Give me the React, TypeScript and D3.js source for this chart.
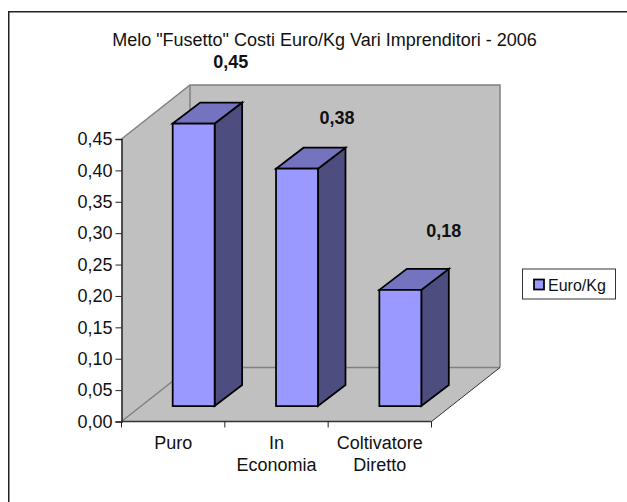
import { useEffect, useRef } from "react";
import * as d3 from "d3";

const categories = [["Puro"], ["In", "Economia"], ["Coltivatore", "Diretto"]];
const values = [0.45, 0.378, 0.185];
const valueLabels = ["0,45", "0,38", "0,18"];
const yTicks = [0, 0.05, 0.1, 0.15, 0.2, 0.25, 0.3, 0.35, 0.4, 0.45];
const chartTitle = 'Melo "Fusetto" Costi Euro/Kg Vari Imprenditori - 2006';
const seriesName = "Euro/Kg";

const FONT = "Liberation Sans, Arial, sans-serif";
// where the data labels sit relative to the bar's top left corner
const labelDx = [58, 61, 64.5];
const labelDy = [-56, -45, -53];

const App = () => {
  const svg = useRef<SVGSVGElement>(null);

  useEffect(() => {
    const root = d3.select(svg.current);
    root.selectAll("*").remove();

    // frame: only the top and left sides are visible
    root.append("path").attr("d", "M8.75,502V11.75H627").attr("fill", "none")
      .attr("stroke", "#222").attr("stroke-width", 1.5);

    root.append("text").attr("x", 324.5).attr("y", 46).attr("text-anchor", "middle")
      .style("font", `18px ${FONT}`).attr("fill", "#111").text(chartTitle);

    const x0 = 121.5, x1 = 431.5;
    const yBase = 421.5, yTop = 139;
    const depthX = 68.5, depthY = -54;
    const barDepthX = 27.5, barDepthY = -21;

    const x = d3.scaleBand<number>().domain(d3.range(categories.length)).range([x0, x1])
      .paddingInner(0.594).paddingOuter(0.297);
    const y = d3.scaleLinear().domain([0, 0.45]).range([yBase, yTop]);

    const wallPath = d3.path();
    wallPath.moveTo(x0, yBase);
    wallPath.lineTo(x0, yTop);
    wallPath.lineTo(x0 + depthX, yTop + depthY);
    wallPath.lineTo(x1 + depthX, yTop + depthY);
    wallPath.lineTo(x1 + depthX, yBase + depthY);
    wallPath.lineTo(x1, yBase);
    wallPath.closePath();
    root.append("path").attr("d", wallPath.toString()).attr("fill", "#c0c0c0");

    // back wall and floor edges
    const grey = "#808080";
    const edge = (pts: [number, number][], color: string, w: number) =>
      root.append("path").attr("d", d3.line()(pts)).attr("fill", "none").attr("stroke", color).attr("stroke-width", w);
    edge([[x0, yTop], [x0 + depthX, yTop + depthY], [x1 + depthX, yTop + depthY], [x1 + depthX, yBase + depthY]], grey, 1.5);
    edge([[x0 + depthX, yTop + depthY], [x0 + depthX, yBase + depthY]], grey, 1.5);
    edge([[x0, yBase], [x0 + depthX, yBase + depthY], [x1 + depthX, yBase + depthY]], grey, 1.5);
    edge([[x1, yBase], [x1 + depthX, yBase + depthY]], "#333", 1);

    // axes
    const axisLeft = d3.axisLeft(y).tickValues(yTicks).tickSize(6).tickPadding(3)
      .tickFormat((d) => d3.format(".2f")(d as number).replace(".", ","));
    const gy = root.append("g").attr("transform", `translate(${x0},0)`).call(axisLeft);
    gy.selectAll("text").style("font", `18px ${FONT}`).attr("fill", "#111");
    gy.selectAll("line,path").attr("stroke", "#222");
    gy.select("path").attr("stroke-width", 1.5);

    root.append("line").attr("x1", x0).attr("x2", x1).attr("y1", yBase).attr("y2", yBase)
      .attr("stroke", "#333").attr("stroke-width", 1.5);
    const step = (x1 - x0) / categories.length;
    d3.range(categories.length + 1).forEach((i) => {
      root.append("line").attr("x1", x0 + i * step).attr("x2", x0 + i * step)
        .attr("y1", yBase).attr("y2", yBase + 6).attr("stroke", "#222");
    });

    categories.forEach((lines, i) => {
      const t = root.append("text").attr("text-anchor", "middle").attr("fill", "#111")
        .style("font", `18px ${FONT}`);
      lines.forEach((l, j) => {
        t.append("tspan").attr("x", x0 + (i + 0.5) * step).attr("y", 449 + j * 22).text(l);
      });
    });

    // bars
    const shiftX = (depthX - barDepthX) / 2, shiftY = -15.5;
    const h0 = y(0) + shiftY;
    values.forEach((v, i) => {
      const left = x(i)! + shiftX;
      const right = left + x.bandwidth();
      const top = y(v) + shiftY;
      const poly = (pts: [number, number][], fill: string) =>
        root.append("polygon").attr("points", pts.map((p) => p.join(",")).join(" "))
          .attr("fill", fill).attr("stroke", "#000").attr("stroke-width", 1.75).attr("stroke-linejoin", "miter");
      poly([[right, top], [right + barDepthX, top + barDepthY], [right + barDepthX, h0 + barDepthY], [right, h0]], "#4d4d80");
      poly([[left, top], [left + barDepthX, top + barDepthY], [right + barDepthX, top + barDepthY], [right, top]], "#7373bf");
      poly([[left, top], [right, top], [right, h0], [left, h0]], "#9999ff");
      root.append("text").attr("x", left + labelDx[i]).attr("y", top + labelDy[i]).attr("text-anchor", "middle")
        .style("font", `bold 18px ${FONT}`).attr("fill", "#111").text(valueLabels[i]);
    });

    // legend
    root.append("rect").attr("x", 522.5).attr("y", 269).attr("width", 93).attr("height", 30)
      .attr("fill", "white").attr("stroke", "#333");
    root.append("rect").attr("x", 534).attr("y", 279.5).attr("width", 10).attr("height", 10)
      .attr("fill", "#9999ff").attr("stroke", "#000").attr("stroke-width", 1.75);
    root.append("text").attr("x", 548).attr("y", 290.5).style("font", `16px ${FONT}`).attr("fill", "#111").text(seriesName);
  }, []);

  return (
    <svg ref={svg} width={627} height={502} style={{ position: "absolute", left: 0, top: 0 }} />
  );
};

export default App;
